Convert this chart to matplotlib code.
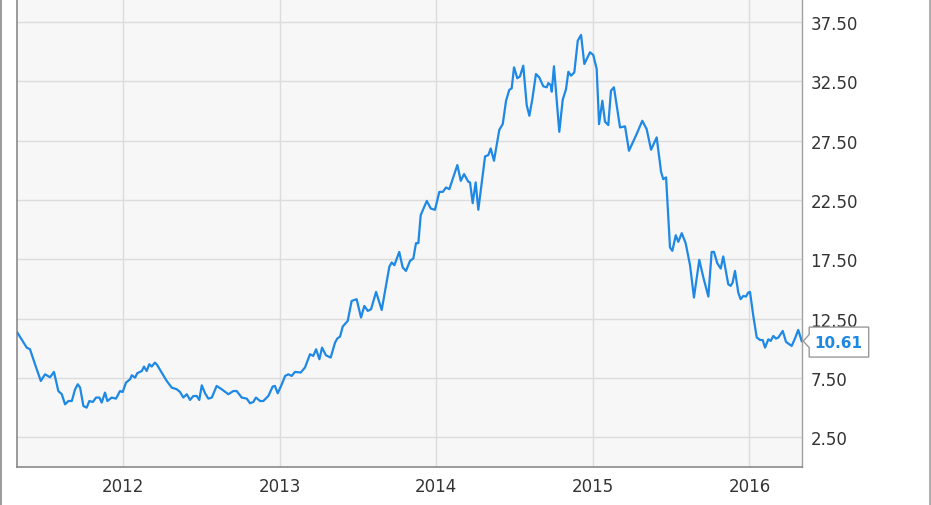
"""
Weekly price chart, April 2011 - April 2016, with last-value tag.
"""

import matplotlib
matplotlib.use("Agg")
import matplotlib.pyplot as plt
from matplotlib.lines import Line2D
from matplotlib.patches import Polygon
from matplotlib.transforms import Affine2D, ScaledTranslation


# time as decimal year
years = [
    2011.325, 2011.385, 2011.406, 2011.438, 2011.475, 2011.502, 2011.534, 2011.559,
    2011.587, 2011.609, 2011.630, 2011.651, 2011.673, 2011.694, 2011.711, 2011.726,
    2011.747, 2011.768, 2011.785, 2011.807, 2011.828, 2011.849, 2011.864, 2011.885,
    2011.900, 2011.928, 2011.955, 2011.981, 2011.998, 2012.019, 2012.045, 2012.056,
    2012.077, 2012.091, 2012.120, 2012.134, 2012.151, 2012.168, 2012.183, 2012.204,
    2012.219, 2012.247, 2012.279, 2012.311, 2012.343, 2012.364, 2012.385, 2012.407,
    2012.428, 2012.449, 2012.471, 2012.487, 2012.503, 2012.524, 2012.545, 2012.567,
    2012.598, 2012.630, 2012.673, 2012.704, 2012.726, 2012.758, 2012.790, 2012.811,
    2012.832, 2012.849, 2012.875, 2012.896, 2012.928, 2012.956, 2012.970, 2012.988,
    2013.014, 2013.035, 2013.056, 2013.077, 2013.098, 2013.135, 2013.162, 2013.194,
    2013.215, 2013.233, 2013.254, 2013.271, 2013.296, 2013.326, 2013.354, 2013.368,
    2013.386, 2013.403, 2013.435, 2013.460, 2013.492, 2013.520, 2013.541, 2013.563,
    2013.584, 2013.616, 2013.652, 2013.701, 2013.716, 2013.733, 2013.764, 2013.786,
    2013.807, 2013.833, 2013.854, 2013.871, 2013.886, 2013.901, 2013.940, 2013.965,
    2013.992, 2014.020, 2014.042, 2014.063, 2014.084, 2014.109, 2014.135, 2014.157,
    2014.178, 2014.205, 2014.216, 2014.233, 2014.252, 2014.269, 2014.312, 2014.333,
    2014.348, 2014.369, 2014.403, 2014.425, 2014.446, 2014.467, 2014.482, 2014.497,
    2014.518, 2014.535, 2014.556, 2014.578, 2014.595, 2014.614, 2014.637, 2014.658,
    2014.684, 2014.706, 2014.716, 2014.731, 2014.738, 2014.752, 2014.786, 2014.808,
    2014.829, 2014.844, 2014.861, 2014.882, 2014.904, 2014.925, 2014.946, 2014.982,
    2015.003, 2015.025, 2015.040, 2015.061, 2015.078, 2015.099, 2015.116, 2015.135,
    2015.174, 2015.206, 2015.231, 2015.280, 2015.316, 2015.344, 2015.372, 2015.408,
    2015.436, 2015.450, 2015.468, 2015.493, 2015.508, 2015.530, 2015.546, 2015.568,
    2015.593, 2015.621, 2015.646, 2015.680, 2015.706, 2015.738, 2015.759, 2015.774,
    2015.795, 2015.817, 2015.833, 2015.865, 2015.880, 2015.893, 2015.908, 2015.929,
    2015.944, 2015.961, 2015.978, 2015.993, 2016.004, 2016.025, 2016.047, 2016.068,
    2016.085, 2016.100, 2016.121, 2016.136, 2016.153, 2016.170, 2016.185, 2016.213,
    2016.234, 2016.255, 2016.270, 2016.291, 2016.312, 2016.334,
]

prices = [
    11.33, 10.06, 9.92, 8.66, 7.25, 7.81, 7.56, 8.01,
    6.40, 6.13, 5.28, 5.56, 5.56, 6.55, 6.97, 6.69,
    5.14, 5.00, 5.56, 5.48, 5.85, 5.85, 5.43, 6.27,
    5.56, 5.85, 5.76, 6.40, 6.32, 7.11, 7.39, 7.73,
    7.53, 7.90, 8.09, 8.46, 8.09, 8.66, 8.46, 8.80,
    8.57, 7.96, 7.25, 6.69, 6.55, 6.32, 5.85, 6.13,
    5.65, 5.98, 5.98, 5.65, 6.88, 6.21, 5.76, 5.85,
    6.83, 6.55, 6.13, 6.40, 6.40, 5.85, 5.76, 5.37,
    5.48, 5.85, 5.56, 5.56, 5.98, 6.78, 6.83, 6.21,
    6.97, 7.67, 7.81, 7.67, 8.01, 7.96, 8.38, 9.50,
    9.36, 9.92, 9.08, 10.06, 9.41, 9.22, 10.48, 10.82,
    10.99, 11.83, 12.31, 13.99, 14.14, 12.59, 13.57, 13.15,
    13.29, 14.75, 13.23, 16.89, 17.23, 17.00, 18.12, 16.81,
    16.52, 17.37, 17.57, 18.86, 18.86, 21.22, 22.42, 21.78,
    21.67, 23.18, 23.18, 23.55, 23.41, 24.40, 25.44, 24.11,
    24.68, 24.03, 23.98, 22.23, 23.98, 21.67, 26.17, 26.28,
    26.84, 25.80, 28.41, 28.89, 30.86, 31.78, 31.90, 33.67,
    32.75, 32.91, 33.81, 30.49, 29.59, 31.00, 33.11, 32.83,
    32.07, 31.99, 32.35, 32.18, 31.62, 33.76, 28.24, 30.94,
    31.84, 33.30, 32.97, 33.25, 35.92, 36.40, 33.95, 34.94,
    34.71, 33.53, 28.89, 30.86, 29.09, 28.81, 31.70, 31.99,
    28.61, 28.70, 26.64, 28.05, 29.17, 28.47, 26.73, 27.77,
    24.87, 24.25, 24.40, 18.50, 18.21, 19.53, 18.97, 19.70,
    18.86, 17.00, 14.28, 17.45, 15.97, 14.36, 18.12, 18.12,
    17.17, 16.72, 17.74, 15.40, 15.26, 15.54, 16.52, 14.70,
    14.14, 14.41, 14.36, 14.70, 14.75, 12.73, 10.91, 10.70,
    10.70, 10.06, 10.76, 10.62, 11.04, 10.82, 10.91, 11.46,
    10.54, 10.34, 10.20, 10.82, 11.55, 10.61,
]

x_ticks = [2012, 2013, 2014, 2015, 2016]
y_ticks = [2.5, 7.5, 12.5, 17.5, 22.5, 27.5, 32.5, 37.5]

LINE_COLOR = "#1e88e5"
W, H = 931, 506


def main():
    plt.rcParams["font.family"] = ["DejaVu Sans"]

    fig = plt.figure(figsize=(W / 100, H / 100), dpi=100)
    ax = fig.add_axes([17 / W, 38 / H, (802 - 17) / W, 468 / H])
    ax.set_facecolor("#f7f7f7")

    ax.plot(years, prices, color=LINE_COLOR, lw=1.6, solid_joinstyle="round", zorder=3)

    ax.set_xlim(2011.323, 2016.336)
    ax.set_ylim(0, 39.43)

    ax.set_xticks(x_ticks)
    ax.set_xticklabels([str(y) for y in x_ticks])
    ax.set_yticks(y_ticks)
    ax.set_yticklabels([f"{v:.2f}" for v in y_ticks])
    ax.yaxis.tick_right()
    ax.tick_params(axis="both", length=0, labelsize=12, labelcolor="#333333")
    ax.tick_params(axis="x", pad=7)
    ax.tick_params(axis="y", pad=6)

    ax.grid(True, color="#dcdcdc", lw=1.0, zorder=0)
    ax.set_axisbelow(True)

    ax.spines["top"].set_visible(False)
    for side in ("left", "bottom"):
        ax.spines[side].set_color("#8a8a8a")
        ax.spines[side].set_linewidth(1.2)
    ax.spines["right"].set_color("#a0a0a0")
    ax.spines["right"].set_linewidth(1.0)

    # last value tag, shape in pixels relative to the last point
    anchor = Affine2D() + ScaledTranslation(years[-1], prices[-1], ax.transData)
    tag = Polygon([(7.5, 14), (67, 14), (67, -16), (7.5, -16),
                   (7.5, -6.5), (1.5, 0), (7.5, 6.5)],
                  closed=True, facecolor="white", edgecolor="#999999",
                  lw=1.0, transform=anchor, clip_on=False, zorder=5)
    ax.add_patch(tag)
    ax.text(37, -1, f"{prices[-1]:.2f}", transform=anchor, ha="center", va="center",
            fontsize=11, fontweight="bold", color=LINE_COLOR, zorder=6, clip_on=False)

    # outer frame lines on the figure sides
    fig.add_artist(Line2D([0.8 / W, 0.8 / W], [0, 1], color="#8a8a8a", lw=1.2))
    fig.add_artist(Line2D([(W - 1) / W, (W - 1) / W], [0, 1], color="#a0a0a0", lw=1.2))

    fig.savefig("out.png", dpi=100)
    plt.close(fig)


if __name__ == "__main__":
    main()
